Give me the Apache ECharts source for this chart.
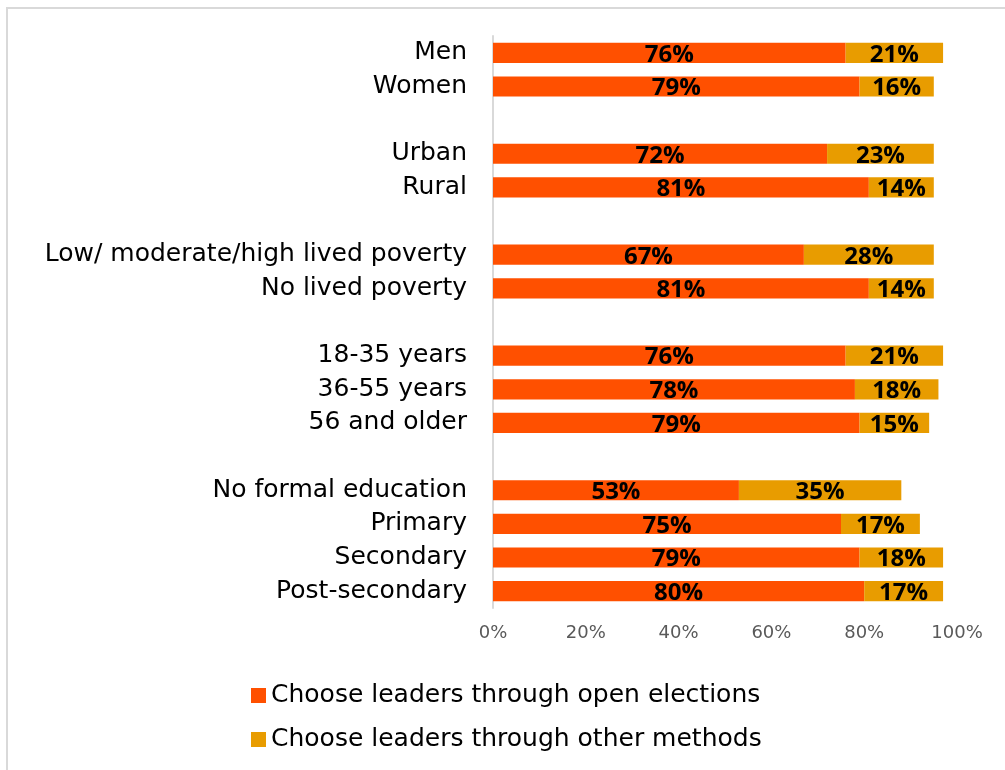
<!DOCTYPE html>
<html>
<head>
<meta charset="utf-8">
<script src="https://cdn.jsdelivr.net/npm/echarts@6/dist/echarts.min.js"></script>
<style>
  html, body { margin: 0; padding: 0; background: #fff; }
  #chart { width: 1005px; height: 770px; }
</style>
</head>
<body>
<div id="chart"></div>
<script>
// categories (blank strings are the gaps between groups)
var categories = [
  "Men", "Women", " ",
  "Urban", "Rural", "  ",
  "Low/ moderate/high lived poverty", "No lived poverty", "   ",
  "18-35 years", "36-55 years", "56 and older", "    ",
  "No formal education", "Primary", "Secondary", "Post-secondary"
];
var openElections = [76, 79, "-", 72, 81, "-", 67, 81, "-", 76, 78, 79, "-", 53, 75, 79, 80];
var otherMethods = [21, 16, "-", 23, 14, "-", 28, 14, "-", 21, 18, 15, "-", 35, 17, 18, 17];
var seriesNames = ["Choose leaders through open elections", "Choose leaders through other methods"];
var xTicks = [0, 20, 40, 60, 80, 100];

var textFont = "DejaVu Sans";
var labelFont = "Open Sans";

var chart = echarts.init(document.getElementById("chart"));

var barLabel = {
  show: true,
  position: "inside",
  offset: [0, 2],
  formatter: "{c}%",
  color: "#000",
  fontSize: 24,
  fontWeight: "bold",
  fontFamily: labelFont
};

var option = {
  animation: false,
  color: ["#FF5000", "#E89C00"],
  grid: { left: 493, right: 48, top: 36, bottom: 162 },
  legend: {
    orient: "vertical",
    left: 246,
    top: 678,
    itemGap: 19,
    itemWidth: 15,
    itemHeight: 15,
    icon: "rect",
    textStyle: { color: "#000", fontSize: 25, fontFamily: textFont },
    data: seriesNames
  },
  xAxis: {
    type: "value",
    min: xTicks[0],
    max: xTicks[xTicks.length - 1],
    interval: 20,
    axisLine: { show: false },
    axisTick: { show: false },
    splitLine: { show: false },
    axisLabel: {
      formatter: "{value}%",
      color: "#595959",
      fontSize: 18,
      fontFamily: textFont,
      margin: 16
    }
  },
  yAxis: {
    type: "category",
    inverse: true,
    data: categories,
    axisLine: { show: true, lineStyle: { color: "#d9d9d9", width: 2 } },
    axisTick: { show: false },
    axisLabel: { color: "#000", fontSize: 25, fontFamily: textFont, margin: 26 }
  },
  series: [
    {
      name: seriesNames[0],
      type: "bar",
      stack: "total",
      data: openElections,
      barCategoryGap: "40%",
      label: barLabel
    },
    {
      name: seriesNames[1],
      type: "bar",
      stack: "total",
      data: otherMethods,
      barCategoryGap: "40%",
      label: barLabel
    }
  ],
  // light frame on the left and top edges
  graphic: [
    {
      type: "polyline",
      shape: { points: [[7, 770], [7, 8], [1005, 8]] },
      style: { stroke: "#d9d9d9", lineWidth: 2, fill: null }
    }
  ]
};

chart.setOption(option);
</script>
</body>
</html>
